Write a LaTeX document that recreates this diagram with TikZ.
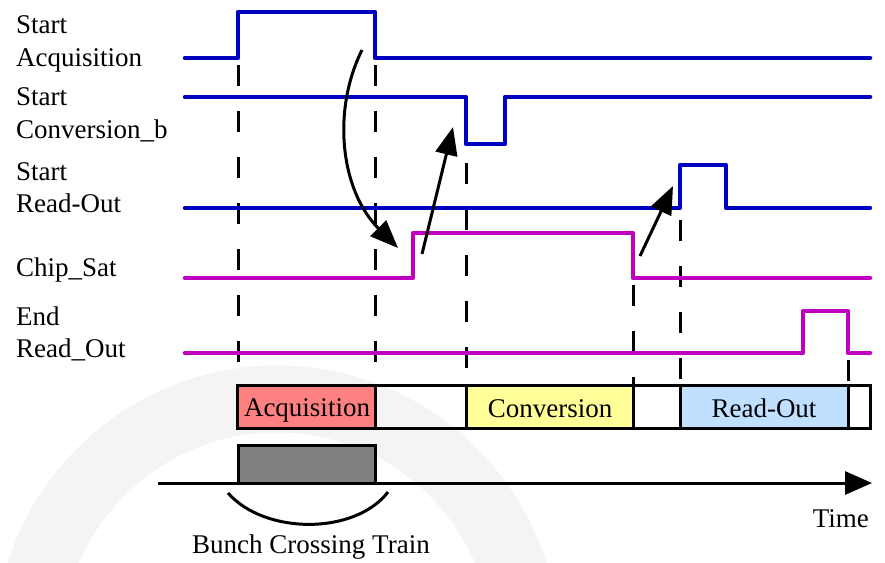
\documentclass[tikz,border=0pt]{standalone}
\usepackage{fontspec}
\setmainfont{Liberation Serif}
\usetikzlibrary{arrows.meta}
\definecolor{sigblue}{RGB}{0,0,192}
\definecolor{sigmag}{RGB}{192,0,192}
\definecolor{acqred}{RGB}{255,128,128}
\definecolor{convyel}{RGB}{255,255,153}
\definecolor{roblue}{RGB}{192,224,255}
\definecolor{bcgray}{RGB}{128,128,128}
\definecolor{wmgray}{RGB}{244,244,244}
\begin{document}
\begin{tikzpicture}[x=1pt,y=-1pt,
  font=\fontsize{27}{33}\selectfont,
  lbl/.style={anchor=base west, inner sep=0pt},
  bluesig/.style={draw=sigblue, line width=4.5pt, line cap=round, line join=round},
  magsig/.style={draw=sigmag, line width=4.5pt, line cap=round, line join=round},
  guide/.style={draw=black, line width=3pt, dash pattern=on 21pt off 25pt},
  cause/.style={draw=black, line width=3pt, -{Triangle[length=28pt,width=22pt]}},
  seg/.style={draw=black, line width=3pt},
  segtext/.style={anchor=base, inner sep=0pt}
]
\useasboundingbox (0,0) rectangle (885,562);
% faint background watermark
\begin{scope}
  \clip (0,0) rectangle (885,562);
  \draw[wmgray, line width=67pt] (277,648) circle (249pt);
\end{scope}

% labels
\node[lbl] (l1a) at (16,33) {Start};
\node[lbl] (l1b) at (16,66) {Acquisition};
\node[lbl] (l2a) at (16,105) {Start};
\node[lbl] (l2b) at (16,138) {Conversion\_b};
\node[lbl] (l3a) at (16,180) {Start};
\node[lbl] (l3b) at (16,212) {Read-Out};
\node[lbl] (l4) at (16,276) {Chip\_Sat};
\node[lbl] (l5a) at (16,325) {End};
\node[lbl] (l5b) at (16,357) {Read\_Out};

% dashed guide lines
\draw[guide] (238,65) -- (238,385);
\draw[guide] (375,65) -- (375,385);
\draw[guide] (466,163) -- (466,385);
\draw[guide] (633,285) -- (633,385);
\draw[guide] (680,220) -- (680,385);
\draw[guide] (848,360) -- (848,385);

% signals
\draw[bluesig] (185,58) -- (238,58) -- (238,12) -- (375,12) -- (375,58) -- (870,58);
\draw[bluesig] (185,97) -- (466,97) -- (466,144) -- (505,144) -- (505,97) -- (870,97);
\draw[bluesig] (185,208) -- (680,208) -- (680,165) -- (726,165) -- (726,208) -- (870,208);
\draw[magsig] (185,278) -- (413,278) -- (413,233) -- (633,233) -- (633,278) -- (870,278);
\draw[magsig] (185,353) -- (803,353) -- (803,311) -- (848,311) -- (848,353) -- (870,353);

% causal arrows
\coordinate (c1s) at (362,50);
\coordinate (c1e) at (398,248);
\coordinate (c2s) at (422,254);
\coordinate (c2e) at (453,127);
\coordinate (c3s) at (640,256);
\coordinate (c3e) at (673,186);
\draw[cause] (c1s) .. controls (332,110) and (340,190) .. (c1e);
\draw[cause] (c2s) -- (c2e);
\draw[cause] (c3s) -- (c3e);

% phase bar
\fill[acqred] (237,385) rectangle (375,428);
\fill[convyel] (466,385) rectangle (633,428);
\fill[roblue] (680,385) rectangle (848,428);
\draw[seg] (237,385) rectangle (870,428);
\draw[seg] (375,385) -- (375,428);
\draw[seg] (466,385) -- (466,428);
\draw[seg] (633,385) -- (633,428);
\draw[seg] (680,385) -- (680,428);
\draw[seg] (848,385) -- (848,428);
\node[segtext] (tacq) at (307,416) {Acquisition};
\node[segtext] (tconv) at (550,417) {Conversion};
\node[segtext] (tro) at (764,417) {Read-Out};

% bunch crossing train
\draw[seg, fill=bcgray] (238,445) rectangle (375,483);
\draw[line width=3pt, -{Triangle[length=27pt,width=23pt]}] (158,483) -- (872,483);
\draw[line width=3pt] (228,493) .. controls (265,535) and (355,535) .. (388,492);
\node[segtext] (tbct) at (311,553) {Bunch Crossing Train};
\node[anchor=base east, inner sep=0pt] (ttime) at (869,527) {Time};
\end{tikzpicture}
\end{document}
